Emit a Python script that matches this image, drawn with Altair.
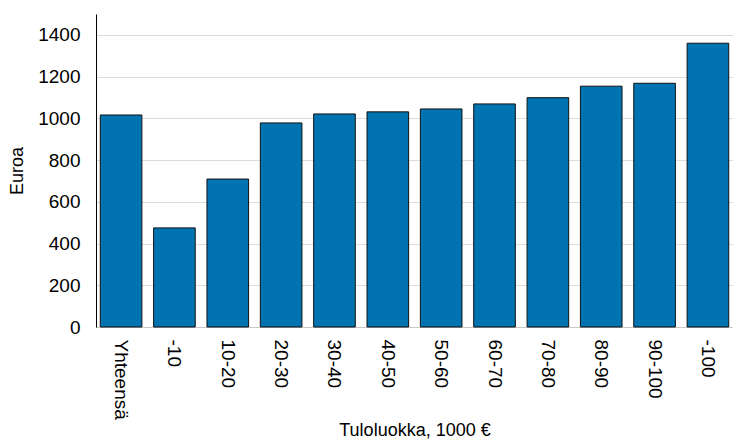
import altair as alt
import pandas as pd

categories = ["Yhteensä", "-10", "10-20", "20-30", "30-40", "40-50", "50-60",
              "60-70", "70-80", "80-90", "90-100", "-100"]
values = [1016, 475, 709, 978, 1021, 1031, 1045, 1069, 1099, 1154, 1168, 1360]
y_ticks = [0, 200, 400, 600, 800, 1000, 1200, 1400]

df = pd.DataFrame({"cat": categories, "val": values})

FONT = "Liberation Sans"

chart = alt.Chart(df).mark_bar(
    color="#0073B0", stroke="#111111", strokeWidth=1
).encode(
    x=alt.X("cat:N", sort=categories,
            scale=alt.Scale(paddingInner=0.22, paddingOuter=0.08),
            axis=alt.Axis(title="Tuloluokka, 1000 €", labelAngle=90, labelAlign="left",
                          labelBaseline="middle", labelPadding=12, ticks=False,
                          domainColor="#c8c8c8", titlePadding=2)),
    y=alt.Y("val:Q", scale=alt.Scale(domain=[0, 1500], nice=False),
            axis=alt.Axis(title="Euroa", values=y_ticks, ticks=False, format="d",
                          labelPadding=16, domainColor="#000000", titlePadding=11,
                          gridColor="#dcdcdc")),
).properties(
    width=637, height=313,
    autosize=alt.AutoSizeParams(type="none"),
    padding={"left": 88, "top": 6, "right": 0, "bottom": 113},
).configure_axis(
    labelFont=FONT, titleFont=FONT, labelFontSize=19, titleFontSize=18,
    labelColor="#000000", titleColor="#000000", titleFontWeight="normal",
).configure_axisX(grid=False).configure_view(stroke=None)

chart.save("out.html", embed_options={"renderer": "svg", "actions": False})
